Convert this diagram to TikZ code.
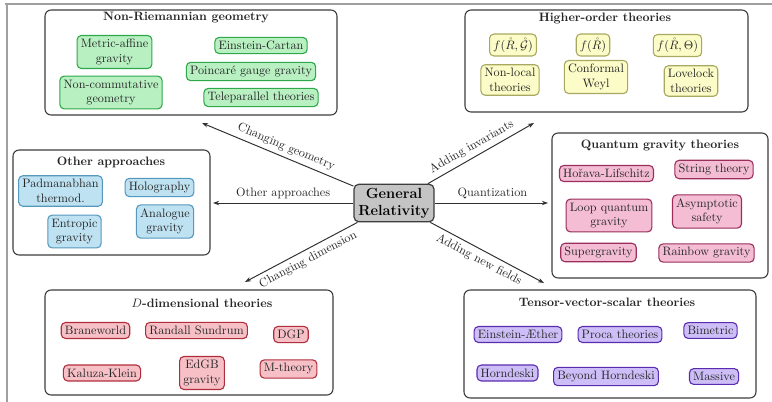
\documentclass[tikz,border=0pt]{standalone}
\usetikzlibrary{arrows.meta,fit}
\definecolor{framec}{HTML}{3C3C3C}
\definecolor{txt}{HTML}{262626}
\definecolor{arrowc}{HTML}{303030}
\definecolor{greenF}{HTML}{B8F0C2}
\definecolor{greenD}{HTML}{2EA84A}
\definecolor{yellowF}{HTML}{FCFCC8}
\definecolor{yellowD}{HTML}{A8A860}
\definecolor{blueF}{HTML}{BEE2F2}
\definecolor{blueD}{HTML}{5598BC}
\definecolor{pinkF}{HTML}{F4BDD4}
\definecolor{pinkD}{HTML}{9A2E5C}
\definecolor{redF}{HTML}{F7C0C6}
\definecolor{redD}{HTML}{B02E3C}
\definecolor{purpF}{HTML}{CEBEF8}
\definecolor{purpD}{HTML}{5A2CB0}
\definecolor{grF}{HTML}{C4C4C4}
\definecolor{shotline}{HTML}{A0A0A0}
\begin{document}
\begin{tikzpicture}[x=0.82pt,y=-0.82pt,
  group/.style={draw=framec, line width=0.9pt, rounded corners=5pt, fill=white, inner sep=0pt},
  gtitle/.style={font=\bfseries, text=txt},
  item/.style={rounded corners=3.5pt, line width=0.9pt, align=center, text=txt, inner sep=3pt},
  itgreen/.style={item, fill=greenF, draw=greenD},
  ityellow/.style={item, fill=yellowF, draw=yellowD},
  itblue/.style={item, fill=blueF, draw=blueD},
  itpink/.style={item, fill=pinkF, draw=pinkD},
  itred/.style={item, fill=redF, draw=redD},
  itpurp/.style={item, fill=purpF, draw=purpD},
  arr/.style={-{Stealth[length=5pt,width=3.6pt]}, line width=0.8pt, draw=arrowc},
  elab/.style={text=txt, sloped}
]
\useasboundingbox (0,0) rectangle (772,402);
% screenshot frame lines
\draw[shotline, line width=1.2pt] (5,4) -- (772,4);
\draw[shotline, line width=1.2pt] (7,4) -- (7,402);

% group boxes
\node[group, fit={(45,10) (337,115)}] (nrbox) {};
\node[group, fit={(465,10) (748,112)}] (hobox) {};
\node[group, fit={(13,150) (210,255)}] (oabox) {};
\node[group, fit={(552,133) (768,278)}] (qgbox) {};
\node[group, fit={(45,290) (333,395)}] (ddbox) {};
\node[group, fit={(464,290) (756,398)}] (tvbox) {};

% titles
\node[gtitle] (nrt) at (186,18) {Non-Riemannian geometry};
\node[gtitle] (hot) at (605,18) {Higher-order theories};
\node[gtitle] (oat) at (111,162) {Other approaches};
\node[gtitle] (qgt) at (660,145) {Quantum gravity theories};
\node[gtitle] (ddt) at (202,303) {$D$-dimensional theories};
\node[gtitle] (tvt) at (607,302) {Tensor-vector-scalar theories};

% Non-Riemannian
\node[itgreen] (ma) at (114.5,52) {Metric-affine\\gravity};
\node[itgreen] (nc) at (111,92.5) {Non-commutative\\geometry};
\node[itgreen] (ec) at (261,45.5) {Einstein-Cartan};
\node[itgreen] (pg) at (251,71.5) {Poincaré gauge gravity};
\node[itgreen] (tp) at (261,97.5) {Teleparallel theories};

% Higher-order
\node[ityellow] (fRG) at (513,45) {$f(\mathring{R},\mathring{\mathcal{G}})$};
\node[ityellow] (fR) at (593,45) {$f(\mathring{R})$};
\node[ityellow] (fRT) at (677.5,45.5) {$f(\mathring{R},\Theta)$};
\node[ityellow] (nl) at (510,80) {Non-local\\theories};
\node[ityellow] (cw) at (596,77) {Conformal\\Weyl};
\node[ityellow] (ll) at (691,81) {Lovelock\\theories};

% Other approaches
\node[itblue] (pt) at (60.5,191) {Padmanabhan\\thermod.};
\node[itblue] (hg) at (159.5,187.5) {Holography};
\node[itblue] (eg) at (74.5,231.5) {Entropic\\gravity};
\node[itblue] (ag) at (165,221.5) {Analogue\\gravity};

% Quantum gravity
\node[itpink] (hl) at (606.5,173.5) {Hořava-Lifschitz};
\node[itpink] (st) at (714,169.5) {String theory};
\node[itpink] (lq) at (609,215.5) {Loop quantum\\gravity};
\node[itpink] (as) at (707,211.5) {Asymptotic\\safety};
\node[itpink] (sg) at (598.5,252.5) {Supergravity};
\node[itpink] (rg) at (706.5,253) {Rainbow gravity};

% D-dimensional
\node[itred] (bw) at (95.5,330.5) {Braneworld};
\node[itred] (rs) at (196.5,330.5) {Randall Sundrum};
\node[itred] (dgp) at (291,334.5) {DGP};
\node[itred] (kk) at (102,373) {Kaluza-Klein};
\node[itred] (ed) at (202,373) {EdGB\\gravity};
\node[itred] (mt) at (288.5,369) {M-theory};

% Tensor-vector-scalar
\node[itpurp] (ea) at (518,334.5) {Einstein-Æther};
\node[itpurp] (pr) at (620,334.5) {Proca theories};
\node[itpurp] (bm) at (710.5,330.5) {Bimetric};
\node[itpurp] (hd) at (507.5,373) {Horndeski};
\node[itpurp] (bh) at (606,376.5) {Beyond Horndeski};
\node[itpurp] (ms) at (714,376.5) {Massive};

% centre
\node[draw=framec, fill=grF, line width=1pt, rounded corners=4pt, align=center,
      font=\large\bfseries, text=black, inner sep=3pt, minimum width=80*0.82pt, minimum height=36*0.82pt] (gr) at (394,203) {General\\Relativity};

% arrow end points
\coordinate (tUL) at (202,123);
\coordinate (tUR) at (534,123);
\coordinate (tL) at (213,203);
\coordinate (tR) at (548,203);
\coordinate (tDL) at (245,282);
\coordinate (tDR) at (544,283);

\draw[arr] (gr) -- node[elab, pos=0.47, above] {Changing geometry} (tUL);
\draw[arr] (gr) -- node[elab, pos=0.46, above] {Adding invariants} (tUR);
\draw[arr] (gr.west) -- node[elab, pos=0.5, above] {Other approaches} (tL);
\draw[arr] (gr.east) -- node[elab, pos=0.51, above] {Quantization} (tR);
\draw[arr] (gr) -- node[elab, pos=0.48, below] {Changing dimension} (tDL);
\draw[arr] (gr) -- node[elab, pos=0.47, below] {Adding new fields} (tDR);
\end{tikzpicture}
\end{document}
